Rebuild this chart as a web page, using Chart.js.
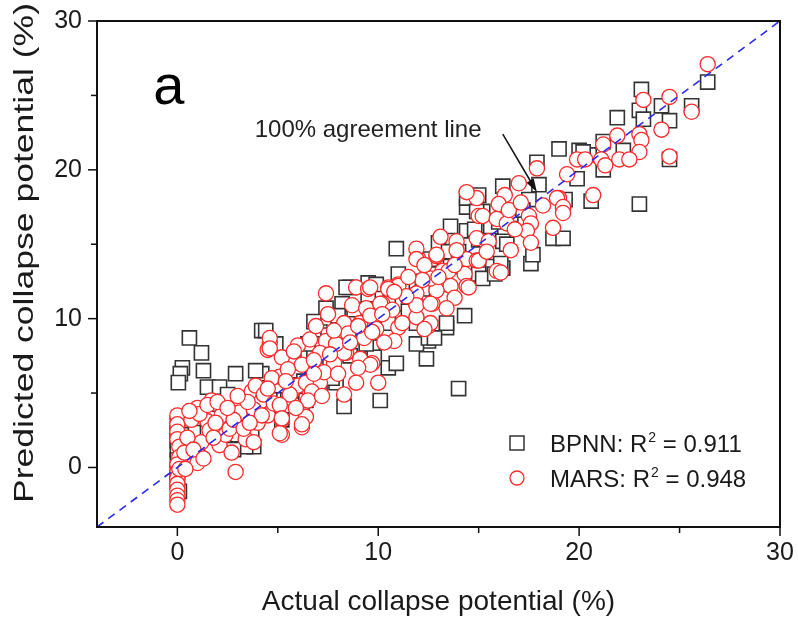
<!DOCTYPE html>
<html>
<head>
<meta charset="utf-8">
<script src="https://cdn.jsdelivr.net/npm/chart.js"></script>
<style>
  html, body { margin: 0; padding: 0; background: #fff; }
  #chart { display: block; }
</style>
</head>
<body>
<canvas id="chart" width="798" height="623"></canvas>
<script>
// actual vs predicted collapse potential (%)
const bpnnPoints = [
    [0.6, 8.7], [1.2, 7.7], [0.25, 6.7], [0.15, 6.3], [0.05, 5.7], [1.3, 6.5], [2.9, 6.3], [1.5, 5.4],
    [2.1, 5.4], [4.2, 9.2], [4.2, 6.3], [4.4, 9.2], [4.9, 8.3], [3.9, 6.5], [3.6, 3.2], [3.8, 1.4],
    [3.2, 2.7], [3.4, 1.4], [5.2, 3.2], [3.7, 2.1], [0, 3.0], [0, 2.4], [0, 1.8], [0, 1.2], [0, 0.5],
    [0, -0.3], [0, -1.0], [0.1, -1.6], [0.2, 2.2], [1.0, 3.3], [1.5, 2.5], [2.0, 3.8], [2.5, 3.0],
    [3.0, 2.2], [2.3, 1.8], [2.8, 3.8], [8.3, 4.1], [10.1, 4.5], [14.0, 5.3], [10.9, 14.7],
    [8.6, 12.1], [9.5, 12.4], [8.4, 12.1], [7.4, 10.7], [8.2, 11.0], [7.1, 9.1], [7.5, 8.9],
    [10.5, 6.7], [7.9, 5.7], [7.1, 5.3], [6.2, 4.2], [10.4, 9.9], [11.9, 12.5], [13.4, 9.4],
    [12.5, 8.5], [11.9, 8.3], [12.4, 7.3], [10.9, 7.0], [7.7, 6.0], [6.4, 4.5], [14.4, 17.5],
    [15.2, 17.2], [14.4, 15.9], [13.0, 15.1], [15.7, 13.5], [15.0, 13.0], [14.3, 10.2], [13.4, 9.7],
    [12.5, 8.7], [9.9, 12.3], [9.7, 8.1], [9.8, 7.4], [10.5, 9.7], [17.9, 20.5], [19.9, 19.4],
    [16.2, 18.9], [14.4, 18.1], [17.5, 18.0], [15.0, 15.3], [16.2, 15.2], [16.2, 13.4], [17.6, 13.7],
    [13.5, 14.5], [15.2, 12.7], [15.8, 13.0], [12.8, 8.7], [11.9, 9.7], [17.7, 14.3], [18.7, 15.4],
    [19.2, 15.4], [16.4, 15.0], [16.1, 13.7], [15.0, 18.3], [14.9, 17.2], [20.6, 17.9], [20.0, 21.3],
    [20.5, 21.0], [23.0, 17.7], [19.0, 21.4], [21.9, 23.5], [23.1, 25.4], [26.4, 25.9], [25.6, 24.3],
    [24.1, 24.3], [24.5, 23.3], [23.0, 24.0], [23.2, 23.4], [20.2, 21.2], [21.2, 21.9], [21.2, 20.0],
    [22.2, 21.3], [24.5, 20.7], [19.3, 18.0], [5.5, 5.0], [6.0, 6.5], [6.8, 7.5], [7.2, 8.3],
    [7.6, 6.8], [8.0, 8.8], [8.8, 9.3], [9.2, 10.5], [9.9, 10.8], [10.6, 11.3], [11.2, 11.0],
    [11.5, 10.5], [12.2, 12.0], [12.8, 13.0], [13.6, 13.5], [14.0, 14.5], [14.8, 16.0], [15.6, 16.2],
    [16.6, 17.0], [17.2, 17.3], [5.8, 7.2], [6.5, 8.3], [7.0, 6.2], [8.6, 7.5], [9.4, 8.3],
    [3.0, 4.2], [2.5, 4.9], [1.7, 3.3], [2.2, 2.7], [4.0, 4.0], [4.6, 4.8],
    [5.0, 5.5], [6.3, 5.8], [8.8, 10.6], [9.5, 11.6], [11.0, 13.0], [12.6, 14.0], [13.6, 16.2],
    [16.0, 16.5], [18.0, 19.0], [1.0, 1.5], [0.5, 0.8], [2.8, 1.2], [6.8, 9.8], [8.0, 10.2]
];

const marsPoints = [
    [0, 3.5], [0, 2.9], [0, 2.4], [0, 1.9], [0.1, 1.4], [0.1, 0.7], [0, 0.2], [0, -0.3], [0, -0.7],
    [0, -1.1], [0, -1.5], [0, -1.9], [0, -2.2], [0, -2.5], [0.1, -0.1], [1.0, 4.0], [1.5, 3.1],
    [1.7, 4.5], [1.2, 1.7], [1.0, 0.3], [0.4, -0.1], [2.1, 1.5], [2.7, 1.0], [2.9, -0.3], [3.1, 3.7],
    [3.4, 1.9], [3.7, 5.1], [4.2, 4.5], [4.5, 3.5], [4.6, 8.4], [4.5, 7.9], [5.2, 7.4], [5.1, 6.1],
    [5.2, 2.2], [2.4, 2.2], [0.7, 3.2], [0.35, 1.0], [1.6, 2.5], [0.5, 2.0], [0.8, 1.2], [1.3, 0.6],
    [1.8, 2.0], [2.2, 3.5], [2.6, 2.6], [1.1, 3.6], [0.6, 3.8], [1.5, 4.2], [2.0, 4.4], [2.8, 3.2],
    [3.3, 2.6], [3.8, 3.9], [3.5, 4.4], [3.9, 5.5], [4.3, 4.9], [4.7, 6.0], [4.5, 5.3], [4.0, 3.0],
    [4.8, 4.3], [7.4, 11.7], [7.5, 10.3], [8.9, 12.1], [9.5, 12.0], [8.7, 10.9], [9.4, 10.7],
    [10.2, 11.0], [10.5, 12.1], [11.0, 12.3], [11.9, 11.0], [12.7, 11.0], [12.9, 14.2], [12.0, 14.0],
    [13.4, 13.2], [13.4, 12.3], [11.9, 10.1], [12.5, 9.5], [11.0, 9.4], [10.8, 8.5], [10.3, 8.4],
    [9.1, 9.7], [8.3, 9.7], [8.5, 9.0], [9.3, 8.7], [8.4, 7.7], [7.8, 7.0], [9.7, 7.0], [10.0, 5.7],
    [8.9, 5.7], [8.3, 4.9], [7.4, 8.5], [7.1, 7.7], [6.0, 8.2], [4.6, 8.7], [4.6, 8.0], [6.2, 6.9],
    [6.6, 5.1], [6.4, 3.4], [6.2, 2.7], [5.2, 3.2], [5.1, 2.3], [4.2, 3.5], [3.8, 1.7], [5.7, 5.1],
    [6.0, 5.5], [7.1, 5.7], [9.0, 9.5], [9.9, 9.3], [8.3, 7.7], [9.1, 7.3], [9.6, 6.9], [9.0, 6.7],
    [6.4, 5.7], [5.6, 4.9], [6.7, 5.1], [6.5, 4.5], [5.1, 4.2], [5.2, 3.3], [6.2, 2.9],
    [15.0, 16.9], [14.9, 15.4], [13.9, 15.2], [13.1, 15.5], [11.9, 14.7], [11.9, 14.0], [12.9, 14.3],
    [14.4, 14.0], [14.9, 13.9], [15.9, 13.2], [13.2, 13.2], [14.3, 13.0], [13.6, 12.2], [14.4, 12.2],
    [13.8, 11.4], [12.9, 11.9], [11.9, 11.7], [11.0, 12.2], [10.5, 12.0], [9.6, 12.1], [10.1, 11.0],
    [11.9, 10.9], [12.6, 11.0], [13.4, 10.7], [12.6, 9.7], [12.3, 9.3], [9.7, 9.1],
    [17.9, 20.1], [19.9, 20.7], [19.4, 19.7], [20.7, 18.3], [19.0, 18.1], [19.2, 17.4], [18.7, 16.1],
    [17.0, 19.1], [16.3, 18.3], [14.9, 18.1], [16.0, 17.7], [17.5, 16.9], [17.6, 16.4], [15.2, 16.9],
    [15.9, 16.7], [16.4, 16.4], [17.4, 15.9], [17.6, 15.1], [15.5, 15.2], [15.0, 13.9], [16.1, 13.1],
    [14.5, 12.1], [14.4, 18.5], [13.5, 13.2], [12.6, 12.7], [11.2, 9.7],
    [26.4, 27.1], [24.5, 24.9], [23.2, 24.7], [25.6, 23.9], [24.1, 22.7], [23.0, 22.4], [23.1, 22.0],
    [23.0, 21.2], [21.9, 22.3], [21.2, 21.7], [21.1, 20.7], [22.0, 20.7], [22.5, 20.7], [24.5, 20.9],
    [20.3, 20.7], [21.3, 20.3], [18.9, 18.1], [19.2, 17.5], [19.2, 17.1],
    [5.5, 6.6], [6.8, 7.2], [7.3, 6.4], [6.6, 8.6], [7.9, 8.3], [5.8, 7.8], [6.9, 9.5], [7.8, 9.2],
    [8.6, 8.4], [9.6, 10.2], [10.7, 10.6], [11.4, 11.5], [12.2, 12.6], [13.0, 12.8], [13.9, 14.6],
    [15.4, 14.5], [16.5, 17.3], [17.1, 17.8],
    [2.5, 4.0], [3.0, 4.8], [1.9, 3.0], [3.6, 3.0], [5.9, 4.0], [6.8, 6.3], [7.6, 7.6], [8.0, 6.3],
    [5.4, 5.8], [7.2, 4.8], [10.8, 11.8], [11.5, 12.8], [12.3, 13.6], [13.8, 13.6], [10.2, 10.3],
    [16.8, 16.0], [18.2, 17.6], [16.6, 14.6]
];

const agreementLine = [[-4, -4], [30, 30]];
const axisMin = -4;
const axisMax = 30;
const majorTicks = [0, 10, 20, 30];
const minorTicks = [5, 15, 25];
const legendLabels = [['BPNN: R', '2', ' = 0.911'], ['MARS: R', '2', ' = 0.948']];
const yTitle = 'Predicted collapse potential (%)';

const FONT = '"Liberation Sans", Arial, sans-serif';
const toXY = arr => arr.map(p => ({ x: p[0], y: p[1] }));

// ticks, frame, y title, legend and annotations
const extrasPlugin = {
    id: 'extras',
    afterDraw(chart) {
        const ctx = chart.ctx;
        const area = chart.chartArea;
        const xs = chart.scales.x;
        const ys = chart.scales.y;
        ctx.save();

        // frame
        ctx.strokeStyle = '#111';
        ctx.lineWidth = 2;
        ctx.strokeRect(area.left, area.top, area.right - area.left, area.bottom - area.top);

        // tick marks
        ctx.lineWidth = 1.5;
        const mark = (vals, len) => {
            vals.forEach(v => {
                const px = xs.getPixelForValue(v);
                ctx.beginPath();
                ctx.moveTo(px, area.bottom);
                ctx.lineTo(px, area.bottom + len);
                ctx.stroke();
                const py = ys.getPixelForValue(v);
                ctx.beginPath();
                ctx.moveTo(area.left, py);
                ctx.lineTo(area.left - len, py);
                ctx.stroke();
            });
        };
        mark(majorTicks, 9);
        mark(minorTicks, 6);

        // y title, stretched along its length like the original
        ctx.save();
        ctx.translate(33, 253);
        ctx.rotate(-Math.PI / 2);
        ctx.scale(1.27, 1);
        ctx.font = '28px ' + FONT;
        ctx.fillStyle = '#1a1a1a';
        ctx.textAlign = 'center';
        ctx.textBaseline = 'alphabetic';
        ctx.fillText(yTitle, 0, 0);
        ctx.restore();

        // panel letter
        ctx.fillStyle = '#000';
        ctx.font = '56px ' + FONT;
        ctx.textBaseline = 'alphabetic';
        ctx.fillText('a', xs.getPixelForValue(-1.2), ys.getPixelForValue(24.4));

        // agreement line label + arrow
        ctx.fillStyle = '#222';
        ctx.font = '24px ' + FONT;
        ctx.fillText('100% agreement line', xs.getPixelForValue(3.85), ys.getPixelForValue(22.2));
        const ax0 = xs.getPixelForValue(16.2), ay0 = ys.getPixelForValue(22.4);
        const ax1 = xs.getPixelForValue(17.9), ay1 = ys.getPixelForValue(18.5);
        const ang = Math.atan2(ay1 - ay0, ax1 - ax0);
        ctx.strokeStyle = '#111';
        ctx.lineWidth = 1.5;
        ctx.beginPath();
        ctx.moveTo(ax0, ay0);
        ctx.lineTo(ax1 - 8 * Math.cos(ang), ay1 - 8 * Math.sin(ang));
        ctx.stroke();
        ctx.fillStyle = '#111';
        ctx.beginPath();
        ctx.moveTo(ax1, ay1);
        ctx.lineTo(ax1 - 14 * Math.cos(ang - 0.3), ay1 - 14 * Math.sin(ang - 0.3));
        ctx.lineTo(ax1 - 14 * Math.cos(ang + 0.3), ay1 - 14 * Math.sin(ang + 0.3));
        ctx.closePath();
        ctx.fill();

        // legend
        const lx = 517, ly = [443, 478];
        ctx.strokeStyle = '#333';
        ctx.lineWidth = 1.5;
        ctx.strokeRect(lx - 7, ly[0] - 7, 14, 14);
        ctx.strokeStyle = '#ff2a2a';
        ctx.lineWidth = 1.3;
        ctx.beginPath();
        ctx.arc(lx, ly[1], 7, 0, Math.PI * 2);
        ctx.stroke();
        ctx.fillStyle = '#1a1a1a';
        legendLabels.forEach((parts, i) => {
            let x = 550;
            const base = ly[i] + 9;
            ctx.font = '24px ' + FONT;
            ctx.fillText(parts[0], x, base);
            x += ctx.measureText(parts[0]).width + 1;
            ctx.font = '14px ' + FONT;
            ctx.fillText(parts[1], x, base - 10);
            x += ctx.measureText(parts[1]).width;
            ctx.font = '24px ' + FONT;
            ctx.fillText(parts[2], x, base);
        });
        ctx.restore();
    }
};

function axisOptions(title, isX) {
    return {
        type: 'linear',
        min: axisMin,
        max: axisMax,
        afterBuildTicks: axis => {
            axis.ticks = majorTicks.map(v => ({ value: v }));
        },
        afterFit: axis => {
            if (isX) axis.height = 96; else axis.width = 97;
        },
        ticks: {
            autoSkip: false,
            maxRotation: 0,
            padding: isX ? 2 : 6,
            color: '#1a1a1a',
            font: { family: FONT, size: 25 }
        },
        grid: {
            drawOnChartArea: false,
            drawTicks: true,
            tickLength: 9,
            tickColor: 'rgba(0,0,0,0)'
        },
        border: { display: true, color: '#111', width: 2 },
        title: {
            display: isX,
            text: title,
            color: '#1a1a1a',
            font: { family: FONT, size: 28 },
            padding: { top: 0, bottom: 4 }
        }
    };
}

document.addEventListener('DOMContentLoaded', function() {
    const ctx = document.getElementById('chart').getContext('2d');
    new Chart(ctx, {
        type: 'scatter',
        data: {
            datasets: [
                {
                    label: 'BPNN',
                    data: toXY(bpnnPoints),
                    pointStyle: 'rect',
                    pointRadius: 10,
                    borderColor: '#333',
                    borderWidth: 1.6,
                    backgroundColor: '#fff',
                    order: 3
                },
                {
                    label: 'MARS',
                    data: toXY(marsPoints),
                    pointStyle: 'circle',
                    pointRadius: 7.6,
                    borderColor: '#ff2a2a',
                    borderWidth: 1.3,
                    backgroundColor: '#fff',
                    order: 2
                },
                {
                    type: 'line',
                    label: 'agreement',
                    data: toXY(agreementLine),
                    borderColor: '#2a2aee',
                    borderWidth: 1.6,
                    borderDash: [8, 6],
                    pointRadius: 0,
                    fill: false,
                    order: 1
                }
            ]
        },
        options: {
            responsive: false,
            animation: false,
            layout: { padding: { top: 18, right: 18, left: 0, bottom: 0 } },
            plugins: {
                legend: { display: false },
                tooltip: { enabled: false }
            },
            scales: {
                x: axisOptions('Actual collapse potential (%)', true),
                y: axisOptions(yTitle, false)
            }
        },
        plugins: [extrasPlugin]
    });
});
</script>
</body>
</html>
